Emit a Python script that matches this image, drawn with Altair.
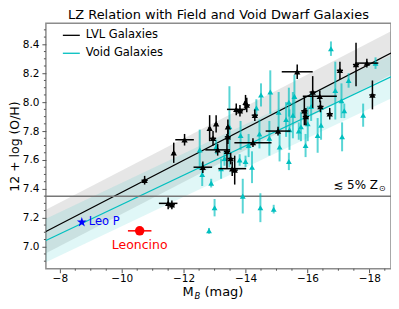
import altair as alt
import pandas as pd

FONT = "DejaVu Sans"
CYAN = "#00bfbf"
STAR = ("M0,-1L0.2245,-0.309L0.951,-0.309L0.363,0.118L0.588,0.809L0,0.382"
        "L-0.588,0.809L-0.363,0.118L-0.951,-0.309L-0.2245,-0.309Z")

# ---------------- data ----------------
lvl_mb = [-10.74, -11.68, -11.50, -11.62, -12.03, -12.62, -12.84, -12.95, -13.05, -13.10,
          -13.43, -13.43, -13.40, -13.52, -13.57, -13.65, -13.70, -13.82, -14.00, -14.04,
          -14.30, -14.24, -15.05, -15.67, -15.90, -15.95, -16.17, -16.40, -16.42, -16.72,
          -17.05, -17.57, -17.92, -18.10]
lvl_oh = [7.46, 7.65, 7.30, 7.29, 7.74, 7.55, 7.82, 7.75, 7.85, 7.67,
          7.83, 7.76, 7.66, 7.61, 7.54, 7.53, 7.95, 7.94, 8.00, 7.98,
          7.91, 7.72, 7.80, 8.21, 7.94, 7.90, 8.07, 8.04, 7.97, 7.92,
          8.22, 8.26, 8.27, 8.05]
lvl_xerr = [0.10, 0.05, 0.30, 0.10, 0.30, 0.30, 0.05, 0.10, 0.05, 0.40,
            0.05, 0.10, 0.10, 0.10, 0.45, 0.10, 0.30, 0.10, 0.05, 0.10,
            0.10, 0.60, 0.40, 0.50, 0.10, 0.10, 0.10, 0.55, 0.10, 0.10,
            0.10, 0.10, 0.37, 0.10]
lvl_yerr = [0.03, 0.07, 0.04, 0.03, 0.04, 0.04, 0.09, 0.05, 0.06, 0.04,
            0.05, 0.05, 0.12, 0.04, 0.05, 0.10, 0.04, 0.04, 0.05, 0.05,
            0.04, 0.03, 0.03, 0.05, 0.10, 0.06, 0.11, 0.04, 0.04, 0.04,
            0.06, 0.15, 0.03, 0.10]

void_mb = [-12.52, -12.60, -12.82, -13.00, -12.89, -13.21, -13.32, -13.48, -13.84, -13.81,
           -14.00, -13.91, -14.48, -14.91, -14.21, -15.10, -15.40, -15.94, -15.72, -14.77,
           -14.80, -14.50, -14.35, -15.40, -15.58, -15.07, -15.31, -15.53, -15.79, -15.42,
           -14.45, -16.01, -16.76, -17.33, -16.90, -17.10, -17.80, -18.20, -17.12, -16.33,
           -16.44, -16.12, -17.19, -13.05, -14.10]
void_oh = [7.67, 7.50, 7.11, 7.27, 7.44, 7.54, 7.61, 7.83, 7.77, 7.60,
           7.59, 7.35, 7.27, 7.26, 7.55, 7.69, 7.59, 7.70, 7.80, 7.75,
           8.07, 8.05, 7.96, 8.00, 8.04, 7.93, 7.88, 7.91, 7.83, 7.81,
           7.78, 7.85, 8.37, 8.15, 8.08, 8.01, 7.91, 8.27, 7.76, 7.77,
           7.84, 7.97, 7.94, 7.69, 7.70]
void_err = [0.14, 0.08, 0.02, 0.06, 0.03, 0.07, 0.05, 0.28, 0.10, 0.04,
            0.04, 0.12, 0.10, 0.03, 0.11, 0.10, 0.06, 0.08, 0.06, 0.12,
            0.15, 0.08, 0.06, 0.10, 0.15, 0.14, 0.12, 0.16, 0.10, 0.14,
            0.10, 0.12, 0.05, 0.05, 0.20, 0.12, 0.08, 0.04, 0.10, 0.12,
            0.10, 0.10, 0.05, 0.05, 0.08]

leop_mb = [-8.71]
leop_oh = [7.17]
leon_mb = [-10.58]
leon_oh = [7.11]
leon_xerr = [0.38]

fit_mb = [-7.55, -18.7]
lvl_fit = [7.105, 8.34]
void_fit = [7.043, 8.175]
lvl_band_lo = [6.955, 8.19]
lvl_band_hi = [7.255, 8.49]
void_band_lo = [6.893, 8.025]
void_band_hi = [7.193, 8.325]
threshold = [7.35]

x_major = [-8, -10, -12, -14, -16, -18]
x_minor = [-8.5, -9.0, -9.5, -10.5, -11.0, -11.5, -12.5, -13.0, -13.5, -14.5, -15.0,
           -15.5, -16.5, -17.0, -17.5, -18.5]
y_major = [7.0, 7.2, 7.4, 7.6, 7.8, 8.0, 8.2, 8.4]
y_minor = [6.9, 6.95, 7.05, 7.1, 7.15, 7.25, 7.3, 7.35, 7.45, 7.5, 7.55, 7.65, 7.7,
           7.75, 7.85, 7.9, 7.95, 8.05, 8.1, 8.15, 8.25, 8.3, 8.35, 8.45, 8.5]

# ---------------- tables ----------------
lvl = pd.DataFrame({"mb": lvl_mb, "oh": lvl_oh, "xe": lvl_xerr, "ye": lvl_yerr})
lvl["xlo"] = lvl.mb - lvl.xe
lvl["xhi"] = lvl.mb + lvl.xe
lvl["ylo"] = lvl.oh - lvl.ye
lvl["yhi"] = lvl.oh + lvl.ye
vd = pd.DataFrame({"mb": void_mb, "oh": void_oh, "e": void_err})
vd["ylo"] = vd.oh - vd.e
vd["yhi"] = vd.oh + vd.e
fit = pd.DataFrame({"mb": fit_mb, "lvl": lvl_fit, "void": void_fit,
                    "llo": lvl_band_lo, "lhi": lvl_band_hi,
                    "vlo": void_band_lo, "vhi": void_band_hi})
leop = pd.DataFrame({"mb": leop_mb, "oh": leop_oh, "t": ["Leo P"]})
leon = pd.DataFrame({"mb": leon_mb, "oh": leon_oh, "xe": leon_xerr, "t": ["Leoncino"]})
leon["xlo"] = leon.mb - leon.xe
leon["xhi"] = leon.mb + leon.xe
thr = pd.DataFrame({"y": threshold})
xmin_df = pd.DataFrame({"v": x_minor})
ymin_df = pd.DataFrame({"v": y_minor})

W, H = 346, 246
xs = alt.Scale(domain=[-18.7, -7.55], reverse=True, nice=False, zero=False)
ys = alt.Scale(domain=[6.848, 8.545], nice=False, zero=False)

x_axis = alt.Axis(values=x_major, title=None, format="d", tickSize=4,
                  grid=False, domain=False, labelFont=FONT, labelFontSize=10.5,
                  labelColor="black", tickColor="#555", labelPadding=1)
y_axis = alt.Axis(values=y_major, title="12 + log (O/H)", format=".1f", tickSize=4,
                  grid=False, domain=False, labelFont=FONT, labelFontSize=10.5,
                  labelColor="black", tickColor="#555", labelPadding=3,
                  titleFont=FONT, titleFontSize=12.5, titleFontWeight="normal",
                  titleColor="black", titlePadding=1)

X = lambda f: alt.X(f, type="quantitative", scale=xs, axis=x_axis)
Y = lambda f: alt.Y(f, type="quantitative", scale=ys, axis=y_axis)

base_fit = alt.Chart(fit)
gray_band = base_fit.mark_area(color="#808080", opacity=0.2).encode(
    x=X("mb"), y=Y("llo"), y2="lhi")
cyan_band = base_fit.mark_area(color=CYAN, opacity=0.12).encode(
    x=X("mb"), y=Y("vlo"), y2="vhi")
thr_line = alt.Chart(thr).mark_rule(color="#777", strokeWidth=1.5).encode(y=Y("y"))

void_err_l = alt.Chart(vd).mark_rule(color=CYAN, opacity=0.65, strokeWidth=2).encode(
    x=X("mb"), y=Y("ylo"), y2="yhi")
void_pts = alt.Chart(vd).mark_point(shape="triangle-up", filled=True, color=CYAN,
                                    opacity=1, size=34).encode(x=X("mb"), y=Y("oh"))
lvl_ye = alt.Chart(lvl).mark_rule(color="black", strokeWidth=1.5).encode(
    x=X("mb"), y=Y("ylo"), y2="yhi")
lvl_xe = alt.Chart(lvl).mark_rule(color="black", strokeWidth=1.5).encode(
    x=X("xlo"), x2="xhi", y=Y("oh"))
lvl_pts = alt.Chart(lvl).mark_point(shape="triangle-up", filled=True, color="black",
                                    opacity=1, size=40).encode(x=X("mb"), y=Y("oh"))

lvl_line = base_fit.mark_line(color="black", strokeWidth=1.2).encode(x=X("mb"), y=Y("lvl"))
void_line = base_fit.mark_line(color=CYAN, strokeWidth=1.2).encode(x=X("mb"), y=Y("void"))

# minor ticks
xminor = alt.Chart(xmin_df).mark_rule(color="#555", strokeWidth=1).encode(
    x=X("v"), y=alt.value(H), y2=alt.value(H + 2))
yminor = alt.Chart(ymin_df).mark_rule(color="#555", strokeWidth=1).encode(
    y=Y("v"), x=alt.value(0), x2=alt.value(-2))

leop_pt = alt.Chart(leop).mark_point(shape=STAR, filled=True, color="blue",
                                     opacity=1, size=110).encode(x=X("mb"), y=Y("oh"))
leop_tx = alt.Chart(leop).mark_text(color="blue", font=FONT, fontSize=11.5, align="left",
                                    baseline="middle", dx=7).encode(x=X("mb"), y=Y("oh"), text="t")
leon_e = alt.Chart(leon).mark_rule(color="red", strokeWidth=1.5).encode(
    x=X("xlo"), x2="xhi", y=Y("oh"))
leon_pt = alt.Chart(leon).mark_point(shape="circle", filled=True, color="red",
                                     opacity=1, size=90).encode(x=X("mb"), y=Y("oh"))
leon_tx = alt.Chart(leon).mark_text(color="red", font=FONT, fontSize=12.5, align="center",
                                    baseline="middle", dy=14).encode(x=X("mb"), y=Y("oh"), text="t")

# legend (pixel positions inside the plot)
leg_k = alt.Chart(thr).mark_rule(strokeWidth=1.3, color="black").encode(
    x=alt.value(17), x2=alt.value(34), y=alt.value(12))
leg_c = alt.Chart(thr).mark_rule(strokeWidth=1.3, color=CYAN).encode(
    x=alt.value(17), x2=alt.value(34), y=alt.value(30))
leg_kt = alt.Chart(thr).mark_text(text="LVL Galaxies", font=FONT, fontSize=11.5, align="left",
                                  baseline="middle", color="black").encode(
    x=alt.value(40), y=alt.value(12))
leg_ct = alt.Chart(thr).mark_text(text="Void Galaxies", font=FONT, fontSize=11.5, align="left",
                                  baseline="middle", color="black").encode(
    x=alt.value(40), y=alt.value(30))

# annotations
ann = alt.Chart(thr).mark_text(text="≲ 5% Z", font=FONT, fontSize=12, align="right",
                               baseline="middle", color="black").encode(
    x=alt.value(333), y=alt.value(162))
ann_sun = alt.Chart(thr).mark_text(text="⊙", font=FONT, fontSize=8, align="left",
                                   baseline="middle", color="black").encode(
    x=alt.value(334), y=alt.value(166))

xt_m = alt.Chart(thr).mark_text(text="M", font=FONT, fontSize=13, align="left",
                                baseline="middle", color="black").encode(
    x=alt.value(137), y=alt.value(H + 23))
xt_b = alt.Chart(thr).mark_text(text="B", font=FONT, fontSize=8.5, fontStyle="italic",
                                align="left", baseline="middle", color="black").encode(
    x=alt.value(149), y=alt.value(H + 27))
xt_r = alt.Chart(thr).mark_text(text="(mag)", font=FONT, fontSize=13, align="left",
                                baseline="middle", color="black").encode(
    x=alt.value(159), y=alt.value(H + 23))

chart = alt.layer(
    gray_band, cyan_band, lvl_line, void_line, thr_line,
    void_err_l, void_pts, lvl_ye, lvl_xe, lvl_pts,
    leop_pt, leop_tx, leon_e, leon_pt, leon_tx,
    leg_k, leg_c, leg_kt, leg_ct, ann, ann_sun, xt_m, xt_b, xt_r, xminor, yminor,
).properties(
    width=W, height=H,
    title=alt.Title("LZ Relation with Field and Void Dwarf Galaxies", font=FONT,
                    fontSize=13, fontWeight="normal", color="black", offset=1),
    autosize=alt.AutoSizeParams(type="none"),
    padding={"left": 38, "top": 15, "right": 0, "bottom": 40},
).configure_view(stroke="#8c8c8c", strokeWidth=1.5)

chart.save("out.html", embed_options={"renderer": "svg", "actions": False})
